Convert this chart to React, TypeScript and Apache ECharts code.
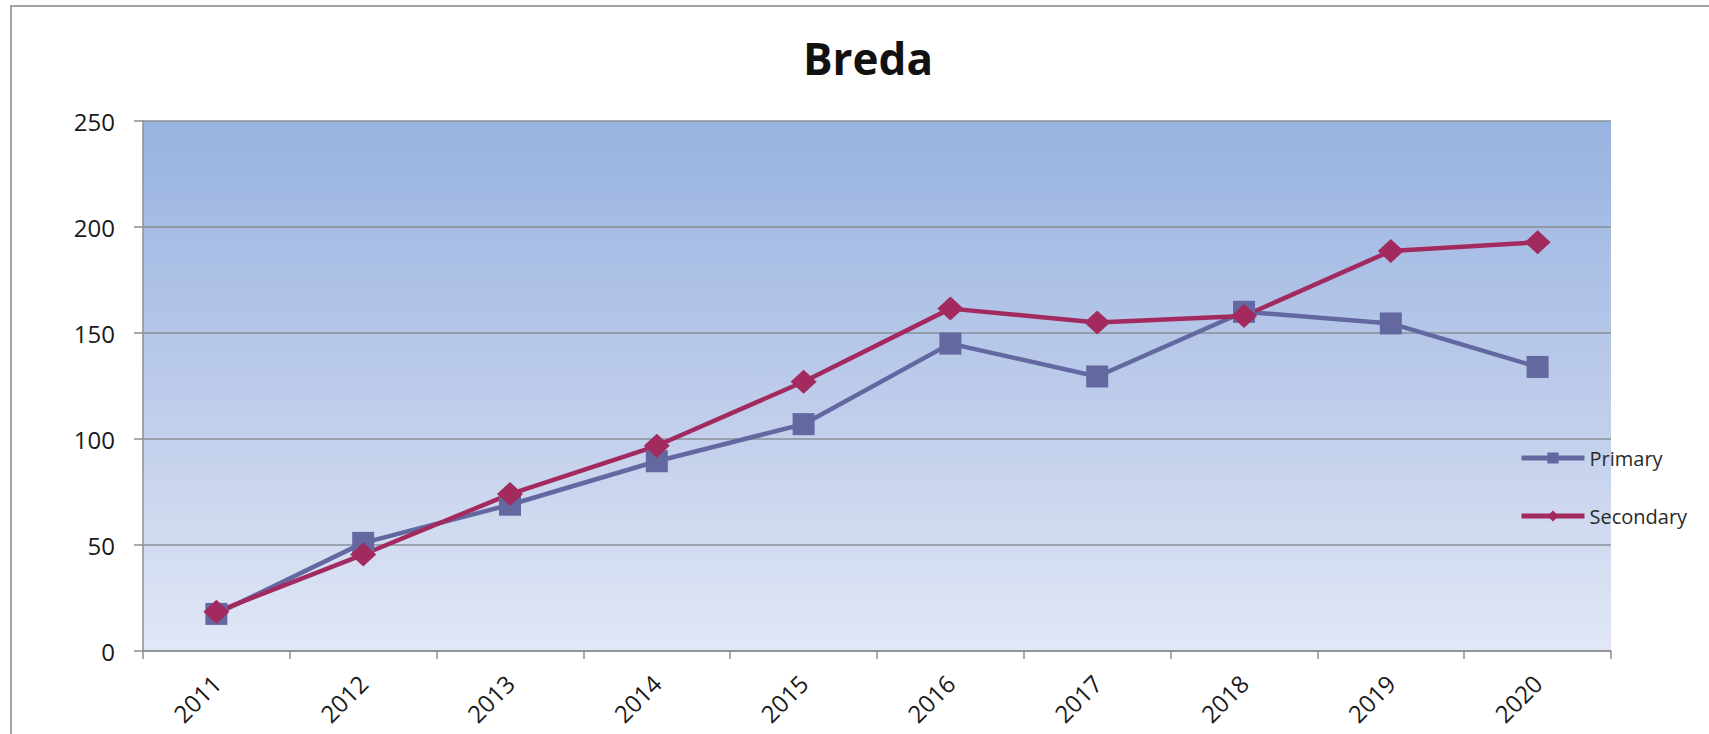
import React, { useEffect, useRef } from "react";
import * as echarts from "echarts";

const years = ["2011", "2012", "2013", "2014", "2015", "2016", "2017", "2018", "2019", "2020"];
const primary = [17.5, 51, 69, 89.5, 107, 145, 129.5, 160, 154.5, 134];
const secondary = [18.5, 45.5, 74, 96.8, 127, 161.5, 155, 158, 188.7, 192.8];
const yMin = 0;
const yMax = 250;
const yStep = 50;
const chartTitle = "Breda";
const seriesNames = ["Primary", "Secondary"];

const FONT = "'Open Sans', 'Noto Sans', sans-serif";

export default function App() {
  const ref = useRef<HTMLDivElement>(null);

  useEffect(() => {
    if (!ref.current) return;
    const chart = echarts.init(ref.current, null, { renderer: "svg" });
    chart.setOption({
      animation: false,
      backgroundColor: "#ffffff",
      title: {
        text: chartTitle,
        left: 803,
        top: 36,
        padding: 0,
        textStyle: { fontFamily: FONT, fontSize: 44, fontWeight: "bold", color: "#111111" },
      },
      legend: {
        orient: "vertical",
        left: 1519,
        top: 448,
        padding: 0,
        itemWidth: 63,
        itemHeight: 14,
        itemGap: 38,
        lineStyle: { width: 5 },
        textStyle: { fontFamily: FONT, fontSize: 20, color: "#2a2a2a", lineHeight: 20 },
        data: seriesNames,
      },
      grid: {
        left: 143,
        right: 98,
        top: 121,
        bottom: 83,
        show: true,
        borderWidth: 0,
        backgroundColor: {
          type: "linear",
          x: 0,
          y: 0,
          x2: 0,
          y2: 1,
          colorStops: [
            { offset: 0, color: "#97b3e0" },
            { offset: 0.5, color: "#bccbea" },
            { offset: 1, color: "#e1e7f5" },
          ],
        },
      },
      xAxis: {
        type: "category",
        data: years,
        boundaryGap: true,
        axisLine: { lineStyle: { color: "#8e8e8e", width: 1.5 } },
        axisTick: { show: true, length: 8, lineStyle: { color: "#8e8e8e", width: 1.5 } },
        axisLabel: {
          rotate: 45,
          margin: 28,
          fontFamily: FONT,
          fontSize: 24,
          color: "#1a1a1a",
        },
      },
      yAxis: {
        type: "value",
        min: yMin,
        max: yMax,
        interval: yStep,
        axisLine: { show: true, lineStyle: { color: "#8e8e8e", width: 1.5 } },
        axisTick: { show: true, length: 9, lineStyle: { color: "#8e8e8e", width: 1.5 } },
        axisLabel: { margin: 28, fontFamily: FONT, fontSize: 24, color: "#1a1a1a" },
        splitLine: { show: true, lineStyle: { color: "#8a8f99", width: 1.5 } },
      },
      series: [
        {
          name: seriesNames[0],
          type: "line",
          data: primary,
          symbol: "rect",
          symbolSize: 22,
          lineStyle: { color: "#6468a0", width: 4.5 },
          itemStyle: { color: "#6468a0" },
        },
        {
          name: seriesNames[1],
          type: "line",
          data: secondary,
          symbol: "diamond",
          symbolSize: [26, 24],
          lineStyle: { color: "#a32a5e", width: 4.5 },
          itemStyle: { color: "#a32a5e" },
        },
      ],
      graphic: [
        {
          type: "polyline",
          silent: true,
          shape: { points: [[11, 734], [11, 6], [1709, 6]] },
          style: { stroke: "#a3a3a3", lineWidth: 2, fill: "none" },
        },
      ],
    });
    return () => chart.dispose();
  }, []);

  return (
    <div
      ref={ref}
      style={{ position: "fixed", left: 0, top: 0, width: 1709, height: 734 }}
    />
  );
}
